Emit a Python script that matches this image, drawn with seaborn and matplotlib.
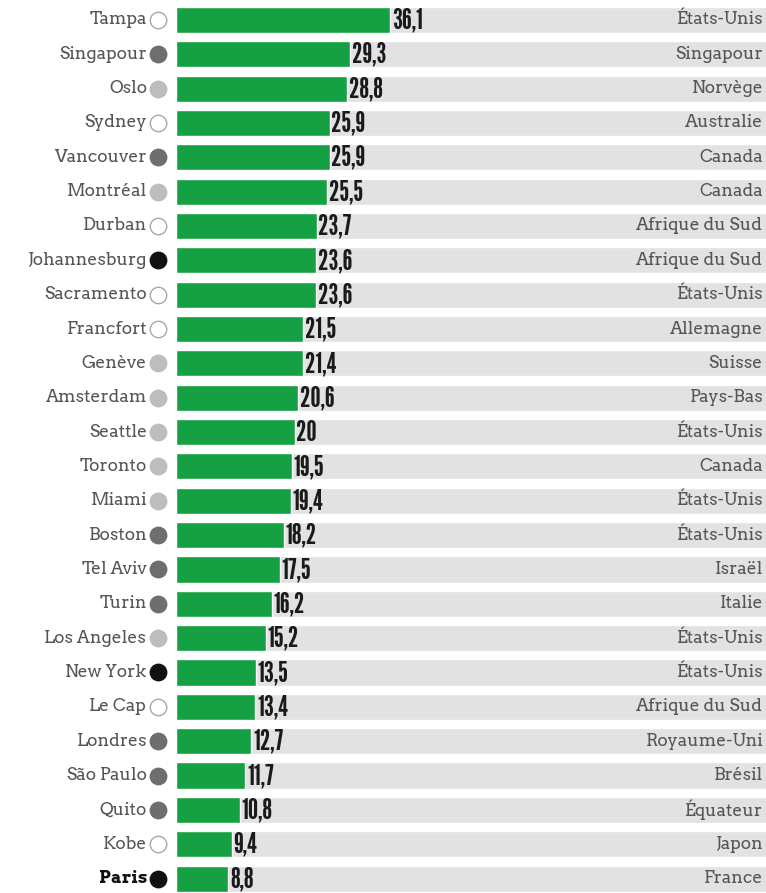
import pandas as pd
import numpy as np
import matplotlib
matplotlib.use("Agg")
import matplotlib.pyplot as plt
import matplotlib.transforms as mtransforms
import seaborn as sns

# -----------------------------
# DATA
# -----------------------------
villes = ["Tampa", "Singapour", "Oslo", "Sydney", "Vancouver", "Montréal",
          "Durban", "Johannesburg", "Sacramento", "Francfort", "Genève",
          "Amsterdam", "Seattle", "Toronto", "Miami", "Boston", "Tel Aviv",
          "Turin", "Los Angeles", "New York", "Le Cap", "Londres",
          "São Paulo", "Quito", "Kobe", "Paris"]
valeurs = [36.1, 29.3, 28.8, 25.9, 25.9, 25.5, 23.7, 23.6, 23.6, 21.5, 21.4,
           20.6, 20.0, 19.5, 19.4, 18.2, 17.5, 16.2, 15.2, 13.5, 13.4, 12.7,
           11.7, 10.8, 9.4, 8.8]
pays = ["États-Unis", "Singapour", "Norvège", "Australie", "Canada", "Canada",
        "Afrique du Sud", "Afrique du Sud", "États-Unis", "Allemagne", "Suisse",
        "Pays-Bas", "États-Unis", "Canada", "États-Unis", "États-Unis",
        "Israël", "Italie", "États-Unis", "États-Unis", "Afrique du Sud",
        "Royaume-Uni", "Brésil", "Équateur", "Japon", "France"]
# groupe du point : 0 blanc, 1 gris clair, 2 gris foncé, 3 noir
groupes = [0, 2, 1, 0, 2, 1, 0, 3, 0, 0, 1, 1, 1, 1, 1, 2, 2, 2, 1, 3, 0,
           2, 2, 2, 0, 3]
fond_max = 100

df = pd.DataFrame({"ville": villes, "valeur": valeurs, "pays": pays,
                   "groupe": groupes, "fond": fond_max})

couleurs_points = {0: "white", 1: "#bdbdbd", 2: "#6e6e6e", 3: "#111111"}
vert = "#15a043"
gris_fond = "#e2e2e2"
police_chiffres = ["League Gothic", "DejaVu Sans"]
police_texte = ["Arvo", "DejaVu Serif"]

# -----------------------------
# FIGURE
# -----------------------------
sns.set_style("white")
fig = plt.figure(figsize=(7.66, 8.93), dpi=100)
ax = fig.add_axes([176 / 766, 0, 1 - 176 / 766, 1])

sns.barplot(data=df, x="fond", y="ville", orient="h", color=gris_fond,
            width=0.76, saturation=1, ax=ax)
sns.barplot(data=df, x="valeur", y="ville", orient="h", color=vert,
            width=0.76, saturation=1, ax=ax)

ax.set_xlim(0, 99.5)
ax.set_ylim(25.42, -0.58)
ax.set_xlabel("")
ax.set_ylabel("")
ax.set_xticks([])
ax.set_yticks([])
sns.despine(ax=ax, left=True, bottom=True)

# valeurs au bout des barres
for i, v in enumerate(valeurs):
    txt = f"{v:.1f}".replace(".", ",")
    if v == int(v):
        txt = str(int(v))
    ax.text(v + 0.3, i + 0.02, txt, va="center", ha="left",
            fontsize=20.5, color="#1a1a1a", family=police_chiffres)

# pays à droite
for i, p in enumerate(pays):
    ax.text(99.0, i, p, va="center", ha="right", fontsize=12.5,
            color="#555555", family=police_texte)

# points et noms des villes à gauche
trans = mtransforms.blended_transform_factory(ax.transAxes, ax.transData)
dot_x = (158 - 176) / (766 - 176)
name_x = (147 - 176) / (766 - 176)
for i, (v, g) in enumerate(zip(villes, groupes)):
    ax.scatter([dot_x], [i], s=140, transform=trans, clip_on=False,
               color=couleurs_points[g],
               edgecolor="#a8a8a8" if g == 0 else couleurs_points[g],
               linewidth=1.0, zorder=5)
    gras = v == "Paris"
    ax.text(name_x, i, v, transform=trans, va="center", ha="right",
            fontsize=12.5, color="#111111" if gras else "#555555",
            fontweight="bold" if gras else "normal",
            family=police_texte)

fig.savefig("out.png", dpi=100, facecolor="white")
